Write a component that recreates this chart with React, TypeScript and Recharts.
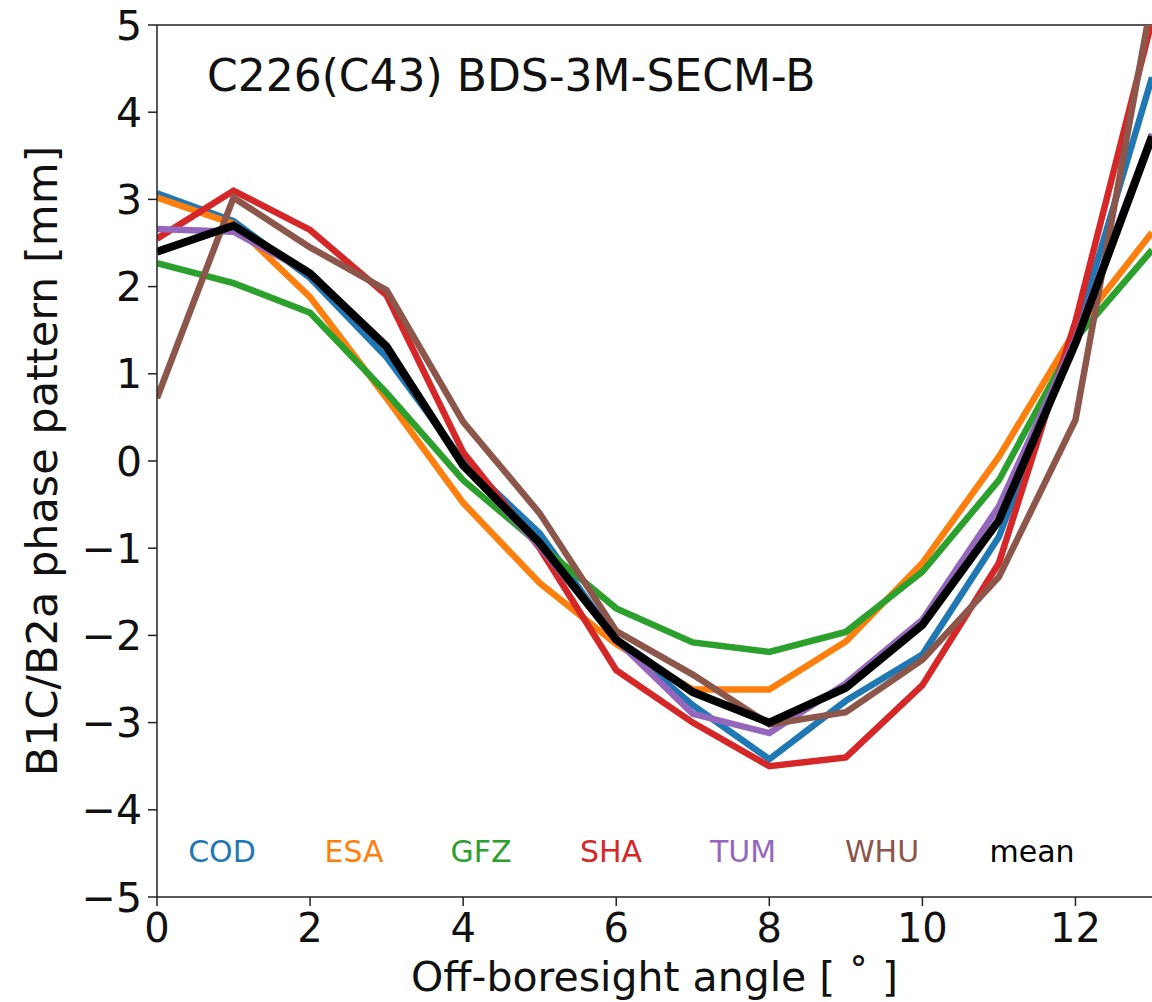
import React from "react";
import { LineChart, Line, XAxis, YAxis, ReferenceLine } from "recharts";

const angles = [0, 1, 2, 3, 4, 5, 6, 7, 8, 9, 10, 11, 12, 13];
const COD = [3.07, 2.75, 2.1, 1.19, 0.0, -0.83, -2.05, -2.8, -3.42, -2.75, -2.22, -0.87, 1.45, 4.4];
const ESA = [3.02, 2.72, 1.88, 0.72, -0.48, -1.4, -2.1, -2.62, -2.62, -2.07, -1.17, 0.05, 1.5, 2.62];
const GFZ = [2.27, 2.04, 1.7, 0.78, -0.22, -0.96, -1.69, -2.08, -2.19, -1.96, -1.27, -0.22, 1.4, 2.42];
const SHA = [2.55, 3.1, 2.65, 1.9, 0.1, -1.0, -2.4, -3.0, -3.5, -3.4, -2.57, -1.17, 1.6, 5.05];
const TUM = [2.66, 2.63, 2.15, 1.33, -0.05, -0.98, -2.05, -2.9, -3.12, -2.55, -1.82, -0.52, 1.4, 3.75];
const WHU = [0.72, 3.02, 2.45, 1.96, 0.45, -0.6, -1.95, -2.45, -3.02, -2.88, -2.28, -1.33, 0.47, 5.3];
const MEAN = [2.4, 2.7, 2.15, 1.31, -0.05, -0.94, -2.05, -2.65, -3.0, -2.6, -1.88, -0.68, 1.35, 3.72];

const xTicks = [0, 2, 4, 6, 8, 10, 12];
const yTicks = [-5, -4, -3, -2, -1, 0, 1, 2, 3, 4, 5];

const seriesNames = ["COD", "ESA", "GFZ", "SHA", "TUM", "WHU", "mean"];
const seriesValues = [COD, ESA, GFZ, SHA, TUM, WHU, MEAN];
const seriesColors = ["#1f77b4", "#ff7f0e", "#2ca02c", "#d62728", "#9467bd", "#8c564b", "#000000"];
const seriesWidths = [6.5, 6.5, 6.5, 6.5, 6.5, 6.5, 8];

const data = angles.map((a, i) => {
  const row: Record<string, number> = { x: a };
  seriesNames.forEach((n, k) => {
    row[n] = seriesValues[k][i];
  });
  return row;
});

const FONT = "DejaVu Sans";
const fmt = (v: number) => (v < 0 ? "\u2212" + Math.abs(v) : String(v));

const legendX = [222, 354, 481, 611, 743, 882, 1032];

export default function App() {
  return (
    <div style={{ position: "absolute", left: 0, top: 0, width: 1152, height: 1002, background: "#fff" }}>
      <LineChart
        width={1152}
        height={1002}
        data={data}
        margin={{ top: 25, right: 0, bottom: 0, left: 0 }}
        style={{ fontFamily: FONT }}
      >
        <XAxis
          type="number"
          dataKey="x"
          domain={[0, 13]}
          ticks={xTicks}
          allowDataOverflow
          height={105}
          stroke="#222"
          strokeWidth={1.5}
          tickSize={9}
          tick={{ fill: "#111", fontSize: 40, fontFamily: FONT, dy: 6 }}
          label={{ value: "Off-boresight angle [ \u02da ]", position: "insideBottom", offset: 11, fill: "#111", fontSize: 41, fontFamily: FONT }}
        />
        <YAxis
          type="number"
          domain={[-5, 5]}
          ticks={yTicks}
          allowDataOverflow
          width={157}
          stroke="#222"
          strokeWidth={1.5}
          tickSize={9}
          tickFormatter={fmt}
          tick={{ fill: "#111", fontSize: 41, fontFamily: FONT, dx: -4 }}
          label={{ value: "B1C/B2a phase pattern [mm]", angle: -90, position: "insideLeft", offset: 42, fill: "#111", fontSize: 43, fontFamily: FONT, style: { textAnchor: "middle" } }}
        />
        <ReferenceLine y={5} stroke="#222" strokeWidth={1.5} ifOverflow="visible" />
        {seriesNames.map((n, k) => (
          <Line
            key={n}
            type="linear"
            dataKey={n}
            stroke={seriesColors[k]}
            strokeWidth={seriesWidths[k]}
            dot={false}
            activeDot={false}
            isAnimationActive={false}
            legendType="none"
          />
        ))}
      </LineChart>
      {seriesNames.map((n, k) => (
        <span
          key={n}
          style={{
            position: "absolute",
            left: legendX[k],
            top: 832,
            transform: "translateX(-50%)",
            color: seriesColors[k],
            fontFamily: FONT,
            fontSize: 30,
            whiteSpace: "nowrap",
            lineHeight: "40px",
          }}
        >
          {n}
        </span>
      ))}
      <div
        style={{
          position: "absolute",
          left: 207,
          top: 48,
          fontFamily: FONT,
          fontSize: 44,
          color: "#111",
          whiteSpace: "nowrap",
          lineHeight: "56px",
        }}
      >
        C226(C43) BDS-3M-SECM-B
      </div>
    </div>
  );
}
